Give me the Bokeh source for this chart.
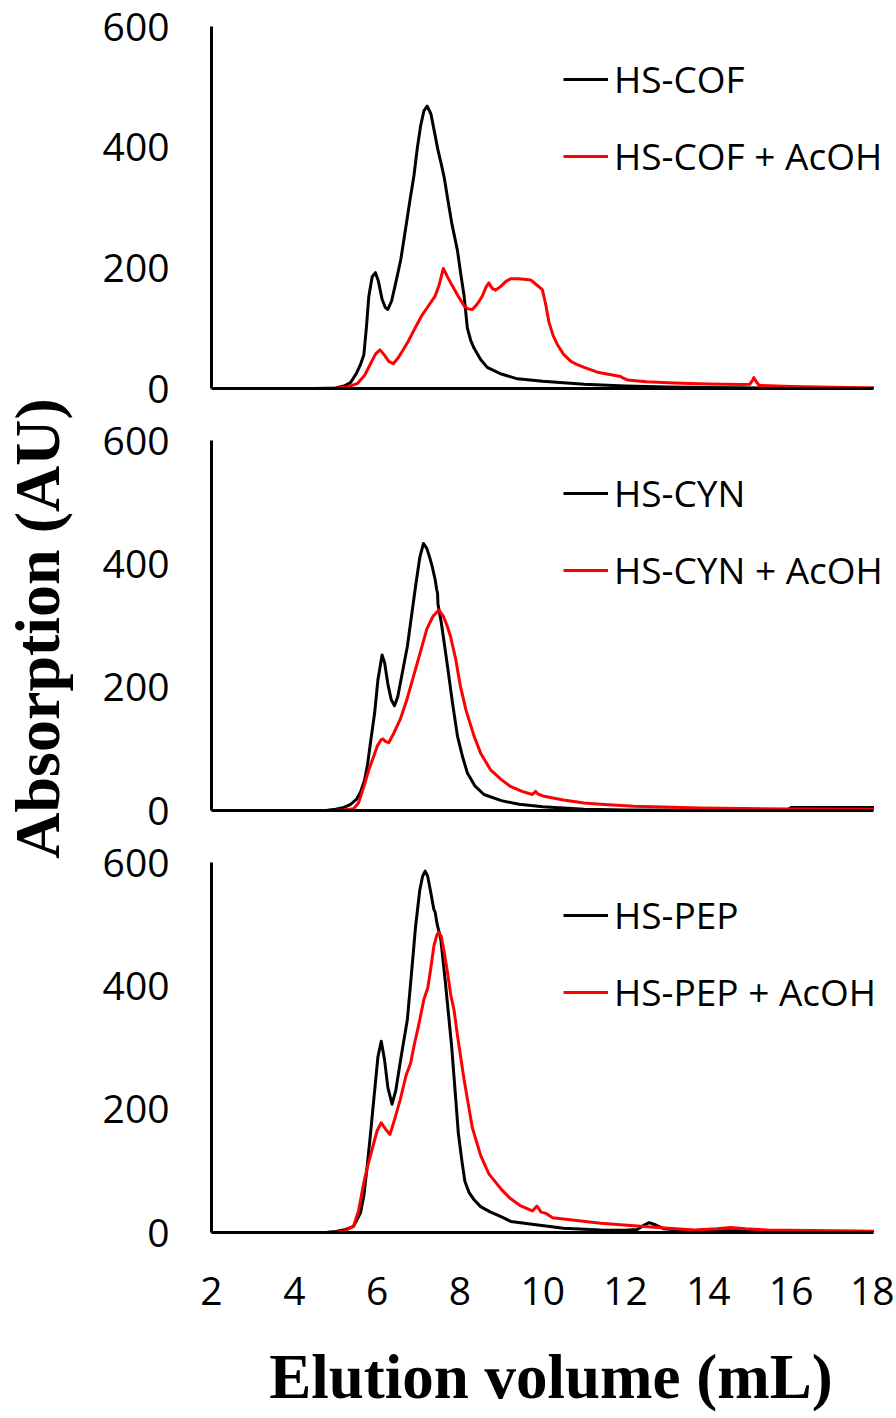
from bokeh.plotting import figure
from bokeh.models import Range1d, FixedTicker, Legend, LegendItem, Label
from bokeh.layouts import row, column
from bokeh.embed import file_html
from bokeh.resources import INLINE

# ---------------- data ----------------
x_ticks = [2, 4, 6, 8, 10, 12, 14, 16, 18]
y_ticks = [0, 200, 400, 600]

cof_v = [2.0, 4.5, 4.8, 5.0, 5.2, 5.36, 5.5, 5.6, 5.68, 5.74, 5.80, 5.88, 5.96, 6.03, 6.12, 6.2, 6.26,
         6.35, 6.45, 6.57, 6.7, 6.8, 6.89, 6.97, 7.05, 7.13, 7.21, 7.3, 7.4, 7.47, 7.55, 7.62, 7.70,
         7.8, 7.94, 8.02, 8.10, 8.18, 8.26, 8.34, 8.5, 8.66, 9.0, 9.39, 10.0, 11.0, 12.0, 13.0,
         14.0, 16.0, 18.0]
cof_a = [0, 0, 0.5, 1, 4, 10, 25, 40, 56, 100, 153, 185, 192, 178, 148, 134, 131,
         145, 175, 213, 270, 315, 353, 398, 435, 460, 468, 455, 420, 395, 372, 350, 316,
         275, 229, 190, 154, 100, 80, 67, 48, 35, 24, 16, 12, 7, 4, 2.5,
         1.5, 0.8, 0.5]

cof_acoh_v = [2.0, 5.0, 5.3, 5.52, 5.7, 5.87, 5.97, 6.07, 6.17, 6.28, 6.39, 6.5, 6.62, 6.75, 6.9, 7.08,
              7.25, 7.40, 7.5, 7.60, 7.7, 7.82, 7.96, 8.10, 8.2, 8.30, 8.42, 8.54, 8.63, 8.70, 8.78,
              8.86, 9.0, 9.12, 9.23, 9.4, 9.55, 9.71, 9.85, 9.99, 10.07, 10.15, 10.25, 10.36, 10.5,
              10.68, 10.85, 11.0, 11.32, 11.88, 11.95, 12.05, 12.5, 13.17, 14.0, 14.79, 15.0, 15.07,
              15.1, 15.15, 15.23, 16.0, 17.0, 18.0]
cof_acoh_a = [0, 0.5, 3, 8, 22, 45, 58, 64, 56, 45, 41, 50, 63, 78, 98, 121,
              138, 153, 172, 199, 185, 170, 153, 137, 132, 131, 140, 153, 168, 175, 166,
              163, 170, 178, 182, 182, 181, 180, 172, 164, 140, 110, 88, 72, 57,
              45, 39, 35, 27, 20, 17, 14, 11, 9, 7.5, 6.5, 7, 14,
              18, 12, 5, 3.5, 2, 1]

cyn_v = [2.0, 4.8, 5.0, 5.2, 5.36, 5.5, 5.6, 5.7, 5.77, 5.85, 5.94, 6.02, 6.12, 6.18, 6.26, 6.34,
         6.42, 6.5, 6.6, 6.73, 6.83, 6.93, 7.03, 7.12, 7.2, 7.28, 7.33, 7.40, 7.44, 7.46, 7.47,
         7.55, 7.62, 7.70, 7.82, 7.94, 8.06, 8.18, 8.36, 8.58, 9.0, 9.43, 10.0, 11.0, 12.0, 14.0,
         15.9, 16.0, 18.0]
cyn_a = [0, 0.5, 2, 5, 10, 18, 30, 50, 75, 115, 158, 212, 252, 240, 205, 180,
         170, 185, 220, 266, 315, 364, 410, 433, 425, 408, 396, 375, 358, 352, 335,
         305, 272, 234, 175, 121, 88, 61, 40, 26, 16, 10, 6, 2, 1, 0.5,
         0.5, 5, 5]

cyn_acoh_v = [2.0, 5.0, 5.2, 5.43, 5.55, 5.68, 5.8, 5.92, 6.0, 6.1, 6.14, 6.2, 6.28, 6.4, 6.56, 6.72,
              6.88, 7.05, 7.2, 7.35, 7.49, 7.6, 7.7, 7.77, 7.9, 8.01, 8.15, 8.34, 8.5, 8.74, 9.0,
              9.22, 9.5, 9.75, 9.8, 9.83, 9.88, 10.03, 10.5, 11.0, 11.4, 12.2, 13.8, 16.0, 18.0]
cyn_acoh_a = [0, 0.5, 1, 3, 12, 39, 66, 88, 104, 115, 116, 112, 110, 125, 148, 180,
              218, 258, 294, 315, 325, 315, 298, 283, 245, 202, 162, 121, 93, 66, 50,
              39, 31, 26, 29, 31, 27, 23, 17, 12, 10, 7, 4, 2.5, 2]

pep_v = [2.0, 4.8, 5.0, 5.2, 5.43, 5.6, 5.68, 5.76, 5.84, 5.92, 6.02, 6.10, 6.18, 6.26, 6.36, 6.45,
         6.58, 6.73, 6.83, 6.93, 7.03, 7.1, 7.16, 7.22, 7.3, 7.37, 7.4, 7.45, 7.54, 7.65, 7.8,
         7.9, 7.96, 8.05, 8.12, 8.22, 8.33, 8.5, 8.74, 8.98, 9.23, 9.79, 10.5, 11.4, 12.0, 12.28,
         12.45, 12.57, 12.7, 12.93, 13.5, 14.5, 16.0, 18.0]
pep_a = [0, 0.5, 1.5, 4, 10, 32, 60, 107, 160, 216, 285, 310, 280, 235, 208, 230,
         285, 345, 420, 497, 555, 578, 586, 578, 550, 524, 520, 500, 475, 405, 302,
         216, 162, 115, 83, 65, 54, 42, 33, 26, 18, 13, 7, 4, 3.5, 5,
         12, 16, 13, 6, 3, 3, 2, 1.5]

pep_acoh_v = [2.0, 5.0, 5.2, 5.43, 5.55, 5.68, 5.78, 5.88, 6.0, 6.10, 6.2, 6.31, 6.43, 6.56, 6.7, 6.81,
              6.89, 7.0, 7.13, 7.2, 7.22, 7.3, 7.37, 7.44, 7.49, 7.55, 7.62, 7.69, 7.78, 7.86, 7.94,
              8.1, 8.3, 8.5, 8.7, 9.0, 9.22, 9.47, 9.75, 9.86, 9.96, 10.08, 10.24, 11.4, 12.61, 13.66,
              14.2, 14.54, 14.9, 15.43, 18.0]
pep_acoh_a = [0, 0.5, 2, 10, 35, 81, 110, 135, 165, 178, 168, 159, 185, 216, 255, 275,
              302, 335, 378, 392, 395, 430, 464, 482, 487, 480, 455, 426, 385, 360, 320,
              248, 170, 125, 95, 70, 55, 43, 35, 43, 33, 31, 24, 15, 9, 4,
              6, 8, 6, 4, 2]

panels = [
    ("HS-COF", cof_v, cof_a, "HS-COF + AcOH", cof_acoh_v, cof_acoh_a),
    ("HS-CYN", cyn_v, cyn_a, "HS-CYN + AcOH", cyn_acoh_v, cyn_acoh_a),
    ("HS-PEP", pep_v, pep_a, "HS-PEP + AcOH", pep_acoh_v, pep_acoh_a),
]

TICK_FONT = "Open Sans"
TITLE_FONT = "Liberation Serif"
STRIP_W = 78
X_END = 18.4                     # a little room right of 18 for the legend text
PX_PER_ML = 41.375
FRAME_W = round((X_END - 2) * PX_PER_ML)
LEFT = 133
RIGHT = 4
W = LEFT + FRAME_W + RIGHT
# (top border, frame height, bottom border) per panel
GEOM = [(26, 362, 26), (26, 370, 26), (26, 370, 184)]
TOTAL_H = sum(sum(g) for g in GEOM)

figs = []
for i, (lb, bv, ba, lr, rv, ra) in enumerate(panels):
    top, fh, bottom = GEOM[i]
    p = figure(width=W, height=top + fh + bottom, x_range=Range1d(2, X_END), y_range=Range1d(0, 600),
               output_backend="svg", toolbar_location=None,
               min_border_left=LEFT, min_border_right=RIGHT,
               min_border_top=top, min_border_bottom=bottom)
    p.outline_line_color = None
    p.grid.visible = False
    p.background_fill_color = "white"
    p.border_fill_color = "white"

    rb = p.line(bv, ba, line_color="black", line_width=3, line_join="round")
    rr = p.line(rv, ra, line_color="#ff0000", line_width=3, line_join="round")

    for ax in p.yaxis:
        ax.ticker = FixedTicker(ticks=y_ticks)
        ax.axis_line_width = 3
        ax.axis_line_color = "black"
        ax.major_tick_out = 0
        ax.major_tick_in = 0
        ax.minor_tick_out = 0
        ax.minor_tick_in = 0
        ax.major_label_text_font = TICK_FONT
        ax.major_label_text_font_size = "39px"
        ax.major_label_text_color = "black"
        ax.major_label_standoff = 42
    for ax in p.xaxis:
        ax.bounds = (2, 18)
        ax.axis_line_width = 3
        ax.axis_line_color = "black"
        ax.major_tick_out = 0
        ax.major_tick_in = 0
        ax.minor_tick_out = 0
        ax.minor_tick_in = 0
        ax.major_label_text_font = TICK_FONT
        ax.major_label_text_color = "black"
        if i < 2:
            ax.ticker = FixedTicker(ticks=[])
            ax.major_label_standoff = 0
        else:
            ax.ticker = FixedTicker(ticks=x_ticks)
            ax.major_label_text_font_size = "39px"
            ax.major_label_standoff = 44
            ax.axis_label = "Elution volume (mL)"
            ax.axis_label_text_font = TITLE_FONT
            ax.axis_label_text_font_style = "bold"
            ax.axis_label_text_font_size = "63px"
            ax.axis_label_text_color = "black"
            ax.axis_label_standoff = 34

    legend = Legend(items=[LegendItem(label=lb, renderers=[rb]),
                           LegendItem(label=lr, renderers=[rr])],
                    location=(352, fh - 155),
                    border_line_color=None, background_fill_alpha=0,
                    label_text_font=TICK_FONT, label_text_font_size="37px",
                    label_text_color="black",
                    glyph_width=45, glyph_height=40, label_height=40,
                    spacing=26, padding=0, margin=0, label_standoff=6)
    p.add_layout(legend)
    figs.append(p)

# left strip carrying the shared y-axis title
t = figure(width=STRIP_W, height=TOTAL_H, x_range=Range1d(0, STRIP_W), y_range=Range1d(0, TOTAL_H),
           output_backend="svg", toolbar_location=None, min_border=0,
           x_axis_location=None, y_axis_location=None)
t.outline_line_color = None
t.grid.visible = False
t.add_layout(Label(x=37, y=TOTAL_H - 628, text="Absorption (AU)", angle=90, angle_units="deg",
                   text_align="center", text_baseline="middle", text_font=TITLE_FONT,
                   text_font_style="bold", text_font_size="64px", text_color="black"))

layout = row(t, column(*figs, spacing=0), spacing=0)
open("out.html", "w").write(file_html(layout, INLINE))
